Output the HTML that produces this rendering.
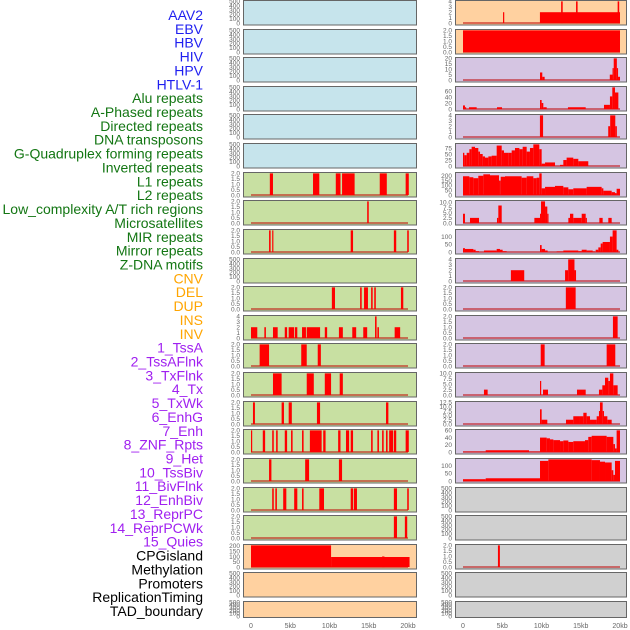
<!DOCTYPE html>
<html><head><meta charset="utf-8">
<style>
html,body{margin:0;padding:0;background:#fff;}
svg{display:block;font-family:"Liberation Sans",sans-serif;}
</style></head>
<body>
<svg id="chart" width="630" height="630" viewBox="0 0 630 630"></svg>
<script>
// ---------- labels ----------
const labelNames=["AAV2","EBV","HBV","HIV","HPV","HTLV-1","Alu repeats","A-Phased repeats","Directed repeats","DNA transposons","G-Quadruplex forming repeats","Inverted repeats","L1 repeats","L2 repeats","Low_complexity A/T rich regions","Microsatellites","MIR repeats","Mirror repeats","Z-DNA motifs","CNV","DEL","DUP","INS","INV","1_TssA","2_TssAFlnk","3_TxFlnk","4_Tx","5_TxWk","6_EnhG","7_Enh","8_ZNF_Rpts","9_Het","10_TssBiv","11_BivFlnk","12_EnhBiv","13_ReprPC","14_ReprPCWk","15_Quies","CPGisland","Methylation","Promoters","ReplicationTiming","TAD_boundary"];
const labelGroups=["v","v","v","v","v","v","r","r","r","r","r","r","r","r","r","r","r","r","r","s","s","s","s","s","c","c","c","c","c","c","c","c","c","c","c","c","c","c","c","k","k","k","k","k"];
// ---------- tick sets ----------
const T2=[0,0.5,1,1.5,2], T4=[0,1,2,3,4], T500=[0,100,200,300,400,500], T200=[0,50,100,150,200];
const T10=[0,2.5,5,7.5,10], T125=[0,2.5,5,7.5,10,12.5], T20=[0,5,10,15,20], T60=[0,20,40,60], T75=[0,25,50,75], T100=[0,50,100];
const xTicks=[0,5,10,15,20], xTickLabels=["0","5kb","10kb","15kb","20kb"];
// ---------- left column data [startKb,endKb,value] ----------
const L6=[[2.4,2.8,2],[7.9,8.7,2],[10.8,11.4,2],[11.6,13.2,2],[16.4,17.3,2],[19.7,20.1,2]];
const L7=[[14.8,15.0,2]];
const L8=[[2.3,2.5,2],[2.7,2.8,2],[12.7,13.0,2],[18.2,18.5,2],[19.9,20.1,2]];
const L10=[[10.3,10.7,2],[13.9,14.1,2],[14.4,14.9,2],[15.3,15.5,2],[15.7,15.9,2],[19.1,19.4,2]];
const L11=[[0,0.8,2],[1.7,1.9,2],[2.8,3.4,2],[4.3,4.6,2],[4.8,5.5,2],[5.6,5.9,2],[6.5,7.0,2],[7.1,8.8,2],[9.4,9.7,2],[11.2,11.7,2],[12.9,13.4,2],[14.3,14.8,2],[15.8,16.0,4],[16.1,16.3,2],[18.3,19.0,2]];
const L12=[[1.1,2.3,2],[6.4,7.1,2],[8.5,8.9,2]];
const L13=[[2.8,3.9,2],[7.1,8.0,2],[9.4,10.2,2],[11.3,11.7,2]];
const L14=[[0.25,0.5,2],[3.9,4.2,2],[4.8,5.2,2],[8.4,8.8,2],[17.2,17.5,2]];
const L15=[[0,0.15,2],[1.5,1.8,2],[2.7,2.9,2],[3.2,3.4,2],[4.3,4.6,2],[5.1,5.3,2],[6.5,6.7,2],[7.5,9.0,2],[9.2,9.5,2],[11.1,11.4,2],[12.1,12.5,2],[12.7,13.0,2],[15.3,15.5,2],[16.1,16.3,2],[16.7,16.9,2],[17.2,17.4,2],[17.6,18.1,2],[18.2,18.5,2],[19.7,20.1,2]];
const L16=[[2.3,2.6,2],[6.9,7.4,2],[11.2,11.6,2]];
const L17=[[2.7,2.9,2],[3.1,3.3,2],[4.1,4.5,2],[5.5,5.9,2],[6.5,6.7,2],[8.7,9.3,2],[12.7,13.0,2],[13.1,13.5,2],[18.2,18.6,2],[19.9,20.1,2]];
const L18=[[18.2,18.6,2],[19.6,19.9,2]];
const L19=[[0,10.2,205],[10.2,20.2,95],[16.7,17.0,100]];
// ---------- right column data ----------
const R0=[[5.1,5.25,2],[9.8,20.0,2],[12.5,12.7,4],[14.4,14.6,4],[19.7,19.9,4]];
const R1=[[0,20,2]];
const R2=[[9.81,10.1,7],[10.1,10.4,3],[18.7,19.05,5],[19.05,19.2,11],[19.2,19.6,20],[19.6,19.75,11],[19.75,20.0,3]];
const R3=[[0,0.25,12],[0.25,0.38,6],[0.76,1.74,6],[4.33,4.97,6],[9.81,10.02,30],[10.02,10.23,20],[10.23,10.66,6],[13.37,15.63,6],[17.96,18.72,14],[18.72,19.02,42],[19.02,19.36,72],[19.36,19.79,55]];
const R4=[[9.8,10.2,4],[18.5,18.75,2],[18.75,19.4,4],[19.4,19.6,2]];
const R5edges=[0,0.17,0.47,0.81,1.10,1.53,1.95,2.17,2.51,2.80,3.23,3.65,4.29,4.93,5.22,5.77,6.20,6.62,7.18,7.60,8.11,8.53,8.96,9.72,10.02,10.45,11.72,12.36,12.78,13.20,14.05,14.69,15.96];
const R5vals=[55,45,55,70,80,75,60,50,40,35,40,43,85,65,55,55,65,75,70,80,60,75,90,70,10,15,0,5,25,35,30,20];
const R6edges=[0,0.81,1.32,1.95,2.59,3.44,4.59,4.80,5.35,7.47,8.11,8.96,9.38,9.72,10.02,10.45,11.72,12.78,13.42,14.05,15.75,17.66,17.88,18.94,19.36,19.57,20.0];
const R6vals=[195,185,175,200,215,205,150,190,195,180,195,175,180,225,70,85,95,80,60,70,85,70,45,30,20,65];
const R7=[[0,0.25,4.5],[0.89,2.04,2.5],[4.33,4.50,2.5],[4.50,4.93,8.5],[9.09,9.81,2.5],[9.81,9.94,4.5],[9.94,10.45,10.5],[10.45,10.74,8],[10.74,10.87,4.5],[13.42,13.63,2.5],[13.63,14.05,4.5],[14.05,15.12,2.5],[15.12,15.63,4.5],[15.63,15.75,2.5],[17.37,17.79,2.5],[18.51,18.94,2.5]];
const R8=[[0,0.25,25],[0.25,1.32,20],[1.32,1.61,15],[1.61,2.04,5],[2.67,4.29,10],[4.29,4.71,20],[4.71,5.05,15],[5.05,5.56,5],[9.81,10.02,45],[10.02,10.45,20],[10.45,10.78,10],[11.93,12.78,3],[12.78,14.69,10],[14.69,15.12,5],[15.12,15.75,15],[15.75,16.52,10],[16.52,16.81,3],[16.90,17.24,15],[17.24,17.54,30],[17.54,17.79,55],[17.79,18.72,65],[18.72,19.06,100],[19.06,19.57,140],[19.57,19.79,15]];
const R9=[[6.1,7.8,2],[13.0,13.4,2],[13.4,14.2,4],[14.2,14.4,2]];
const R10=[[13.1,14.35,2]];
const R11=[[19.1,19.7,2]];
const R12=[[9.9,10.4,2],[18.3,19.4,2]];
const R13=[[2.67,3.14,2.5],[9.81,9.94,6.5],[10.19,10.83,2.5],[14.52,15.63,2.5],[17.32,17.75,2.5],[17.75,18.09,4.5],[18.09,18.51,8],[18.51,18.72,6.5],[18.72,19.15,10],[19.15,19.70,4.5]];
const R14=[[9.81,10.02,8.5],[10.02,10.74,2.5],[13.12,14.05,2.5],[14.05,14.78,4.5],[14.78,15.33,4.5],[15.33,15.75,6.5],[15.75,16.18,4.5],[16.18,17.03,2.5],[17.03,17.32,4.5],[17.32,17.45,7.5],[17.45,17.79,12.5],[17.79,17.96,7.5],[17.96,18.39,4.5],[18.39,18.94,2.5]];
const R15edges=[0,2.89,8.41,9.81,10.66,11.08,11.51,12.36,12.78,13.42,14.05,15.54,15.96,16.39,18.30,19.15,19.36,19.57,20.0];
const R15vals=[1,5,1,40,38,35,33,30,32,28,30,33,42,45,42,22,10,60];
const R16edges=[0,2.89,9.81,10.87,16.39,17.45,18.09,18.94,19.15,19.36,20.0];
const R16vals=[12,18,130,140,135,125,120,70,40,130];
const R19=[[4.45,4.7,2]];

function steps(edges,vals){const o=[];for(let i=0;i<vals.length;i++)o.push([edges[i],edges[i+1],vals[i]]);return o;}
const BLUE="#c6e4ec",GREEN="#c8e0a2",ORANGE="#ffd1a0",PURPLE="#d5c5e2",GREY="#d0d0d0";
const leftCol=[[null,T500,BLUE],[null,T500,BLUE],[null,T500,BLUE],[null,T500,BLUE],[null,T500,BLUE],[null,T500,BLUE],
 [L6,T2,GREEN],[L7,T2,GREEN],[L8,T2,GREEN],[null,T500,GREEN],[L10,T2,GREEN],[L11,T4,GREEN],[L12,T2,GREEN],[L13,T2,GREEN],
 [L14,T2,GREEN],[L15,T2,GREEN],[L16,T2,GREEN],[L17,T2,GREEN],[L18,T2,GREEN],[L19,T200,ORANGE],[null,T500,ORANGE],[null,T500,ORANGE]];
const rightCol=[[R0,T4,ORANGE],[R1,T2,ORANGE],[R2,T20,PURPLE],[R3,T60,PURPLE],[R4,T4,PURPLE],[steps(R5edges,R5vals),T75,PURPLE],
 [steps(R6edges,R6vals),T200,PURPLE],[R7,T10,PURPLE],[R8,T100,PURPLE],[R9,T4,PURPLE],[R10,T2,PURPLE],[R11,T2,PURPLE],[R12,T2,PURPLE],
 [R13,T10,PURPLE],[R14,T125,PURPLE],[steps(R15edges,R15vals),T60,PURPLE],[steps(R16edges,R16vals),T100,PURPLE],
 [null,T500,GREY],[null,T500,GREY],[R19,T2,GREY],[null,T500,GREY],[null,T500,GREY]];

const NS="http://www.w3.org/2000/svg";
const svg=document.getElementById('chart');
function mk(tag,attrs,parent){const e=document.createElementNS(NS,tag);for(const k in attrs)e.setAttribute(k,attrs[k]);(parent||svg).appendChild(e);return e;}

// labels
const colorMap={v:"#1f1ff0",r:"#137613",s:"#ffa500",c:"#a020f0",k:"#000"};
labelNames.forEach((n,i)=>{
  const t=mk('text',{x:203,y:20+i*13.86,'text-anchor':'end','font-size':14,fill:colorMap[labelGroups[i]]});
  
  
  t.textContent=n;
});

function panel(col,row,data,ticks,bg){
  const x0=col===0?243:455, w=col===0?173:171, kb0=col===0?251:463, pxkb=7.85;
  const top=Math.round(row*28.62)+0.5, h=row===21?16:24.5;
  const g=mk('g',{});
  
  
  const r=mk('rect',{x:x0+0.5,y:top,width:w,height:h,fill:bg,stroke:'none'},g);
  
  
  let maxD=0; if(data) data.forEach(d=>{if(d[2]>maxD)maxD=d[2];});
  const ymax=Math.max(maxD,ticks[ticks.length-1]);
  const lo=-0.09*ymax, hi=1.04*ymax;
  const yS=v=>top+h-(v-lo)/(hi-lo)*h;
  const xS=k=>kb0+k*pxkb;
  const dec=ticks.some(t=>t%1!==0)||ticks===T2;
  ticks.forEach(t=>{
    const tt=mk('text',{x:x0-3,y:yS(t)+2.3,'text-anchor':'end','font-size':6.5,fill:'#666'},g);
    
    
    tt.textContent=dec?t.toFixed(1):String(t);
  });
  if(data){
    const bl=mk('line',{x1:xS(0),x2:xS(20),y1:yS(0),y2:yS(0),stroke:'rgba(190,0,0,0.5)','stroke-width':2},g);
    
    
    data.forEach(d=>{
      if(d[2]<=0)return;
      const b=mk('rect',{x:xS(d[0]),y:yS(d[2]),width:Math.max(1.2,xS(d[1])-xS(d[0])),height:yS(0)-yS(d[2]),fill:'#ff0000'},g);
      
      
    });
  }
  const f=mk('rect',{x:x0+0.5,y:top,width:w,height:h,fill:'none',stroke:'#666','stroke-width':1},g);
  
  
}
leftCol.forEach((p,i)=>panel(0,i,p[0],p[1],p[2]));
rightCol.forEach((p,i)=>panel(1,i,p[0],p[1],p[2]));

// x axes
[251,463].forEach((kb0,c)=>{
  xTicks.forEach((k,i)=>{
    const t=mk('text',{x:kb0+k*7.85,y:628,'text-anchor':'middle','font-size':7,fill:'#666'});
    
    
    t.textContent=xTickLabels[i];
  });
});
</script>
</body></html>
